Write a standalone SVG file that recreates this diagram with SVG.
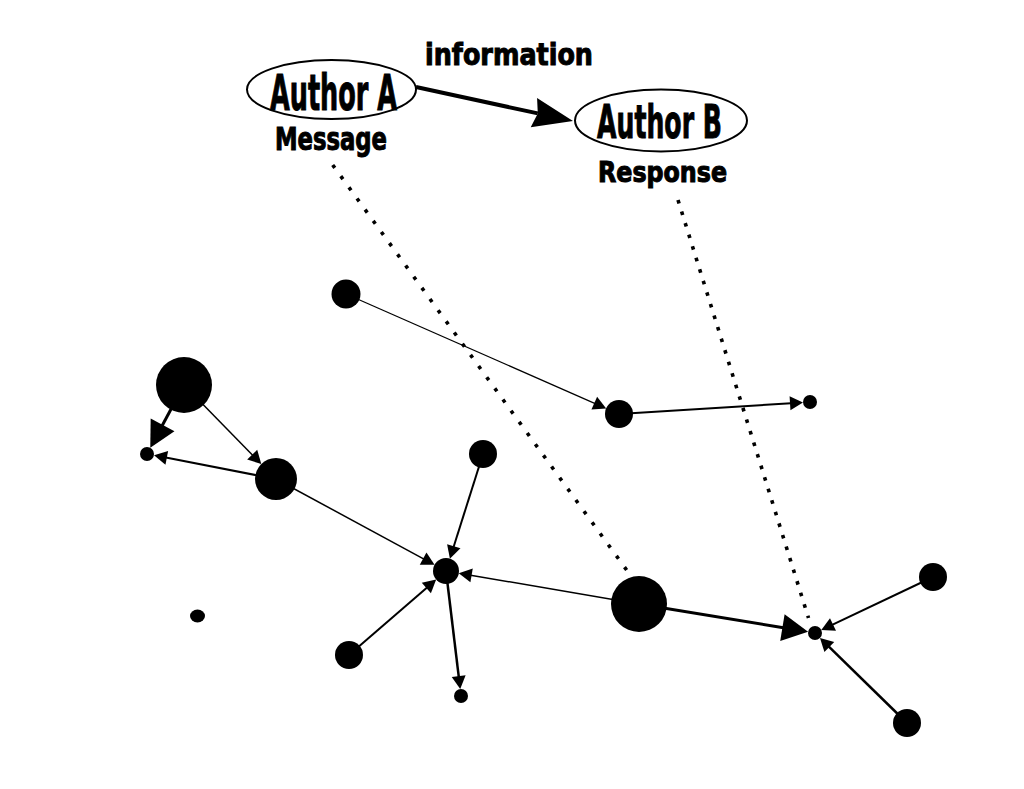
<svg xmlns="http://www.w3.org/2000/svg" width="1024" height="789" viewBox="0 0 1024 789">
<style>
.lbl{font-family:"DejaVu Sans Condensed","DejaVu Sans","Liberation Sans",sans-serif;font-weight:bold;font-stretch:condensed;fill:#000;stroke:#000;stroke-width:1;text-anchor:middle}
.oval{fill:#fff;stroke:#000;stroke-width:2}
.node{fill:#000}
.edge{stroke:#000;fill:none}
.dots{stroke:#000;fill:none;stroke-width:3.6}
</style>
<defs>
<marker id="arrowS" markerUnits="userSpaceOnUse" markerWidth="14" markerHeight="14" refX="1" refY="7" orient="auto" overflow="visible">
<path d="M0,0 L13,7 L0,14 z" fill="#000"/>
</marker>
<marker id="arrowL" markerUnits="userSpaceOnUse" markerWidth="27" markerHeight="27" refX="1" refY="13.5" orient="auto" overflow="visible">
<path d="M0,0 L26,13.5 L0,27 z" fill="#000"/>
</marker>
<marker id="arrowXL" markerUnits="userSpaceOnUse" markerWidth="41" markerHeight="31" refX="4" refY="15" orient="auto" overflow="visible">
<path d="M0,0 L40,15 L0,30 L4,15 z" fill="#000"/>
</marker>
</defs>
<rect width="1024" height="789" fill="#fff"/>
<g id="connectors">
<line class="dots" x1="332.7" y1="165" x2="628.3" y2="572.3" stroke-dasharray="3.6 10.2"/>
<line class="dots" x1="678" y1="200" x2="808.5" y2="618" stroke-dasharray="3.6 8.5"/>
<line class="edge" x1="416" y1="87" x2="537.8" y2="113.4" stroke-width="4" marker-end="url(#arrowXL)"/>
<line class="edge" x1="346" y1="294" x2="595.2" y2="403.6" stroke-width="1.2" marker-end="url(#arrowS)"/>
<line class="edge" x1="619" y1="414" x2="791" y2="403.2" stroke-width="2" marker-end="url(#arrowS)"/>
<line class="edge" x1="184" y1="385" x2="162.1" y2="425.8" stroke-width="3" marker-end="url(#arrowL)"/>
<line class="edge" x1="184" y1="385" x2="252.9" y2="455.4" stroke-width="1.5" marker-end="url(#arrowS)"/>
<line class="edge" x1="276" y1="479" x2="165.8" y2="457.6" stroke-width="2" marker-end="url(#arrowS)"/>
<line class="edge" x1="276" y1="479" x2="424" y2="559.1" stroke-width="1.5" marker-end="url(#arrowS)"/>
<line class="edge" x1="483" y1="454" x2="453.5" y2="547.2" stroke-width="2" marker-end="url(#arrowS)"/>
<line class="edge" x1="349" y1="655" x2="427.1" y2="587.4" stroke-width="2" marker-end="url(#arrowS)"/>
<line class="edge" x1="639" y1="604" x2="470.6" y2="575.2" stroke-width="1.5" marker-end="url(#arrowS)"/>
<line class="edge" x1="446" y1="571" x2="458.8" y2="677.1" stroke-width="2.5" marker-end="url(#arrowS)"/>
<line class="edge" x1="639" y1="604" x2="783.4" y2="627.8" stroke-width="3" marker-end="url(#arrowL)"/>
<line class="edge" x1="933" y1="577" x2="832.1" y2="624.9" stroke-width="2" marker-end="url(#arrowS)"/>
<line class="edge" x1="907" y1="723" x2="828.6" y2="646.3" stroke-width="2.5" marker-end="url(#arrowS)"/>
</g>
<g id="label-information">
<text class="lbl" transform="translate(509,65) scale(0.82,1)" x="0" y="0" font-size="31" textLength="204.8" lengthAdjust="spacingAndGlyphs">information</text>
</g>
<g id="author-a">
<ellipse class="oval" cx="331.5" cy="89.5" rx="84.5" ry="29.5"/>
<text class="lbl" transform="translate(333.5,109.5) scale(0.51,1)" x="0" y="0" font-size="50" textLength="249" lengthAdjust="spacingAndGlyphs">Author A</text>
<text class="lbl" transform="translate(331,150) scale(0.729,1)" x="0" y="0" font-size="32" textLength="153.6" lengthAdjust="spacingAndGlyphs">Message</text>
</g>
<g id="author-b">
<ellipse class="oval" cx="661" cy="120.5" rx="86" ry="31"/>
<text class="lbl" transform="translate(659.5,138) scale(0.536,1)" x="0" y="0" font-size="47" textLength="233" lengthAdjust="spacingAndGlyphs">Author B</text>
<text class="lbl" transform="translate(662.5,182) scale(0.849,1)" x="0" y="0" font-size="28" textLength="152" lengthAdjust="spacingAndGlyphs">Response</text>
</g>
<g id="n1"><circle class="node" cx="346" cy="294" r="14.5"/></g>
<g id="n2"><circle class="node" cx="184" cy="385" r="28"/></g>
<g id="n3"><circle class="node" cx="147" cy="454" r="7"/></g>
<g id="n4"><circle class="node" cx="276" cy="479" r="21"/></g>
<g id="n5"><circle class="node" cx="483" cy="454" r="14"/></g>
<g id="n6"><circle class="node" cx="446" cy="571" r="13"/></g>
<g id="n7"><circle class="node" cx="349" cy="655" r="14"/></g>
<g id="n8"><circle class="node" cx="461" cy="696" r="7"/></g>
<g id="n9"><circle class="node" cx="619" cy="414" r="14"/></g>
<g id="n10"><circle class="node" cx="810" cy="402" r="7"/></g>
<g id="n11"><circle class="node" cx="639" cy="604" r="28"/></g>
<g id="n12"><circle class="node" cx="815" cy="633" r="7"/></g>
<g id="n13"><circle class="node" cx="933" cy="577" r="14"/></g>
<g id="n14"><circle class="node" cx="907" cy="723" r="14"/></g>
<g id="n15"><ellipse class="node" cx="197.5" cy="616" rx="7.5" ry="6.5"/></g>
</svg>
